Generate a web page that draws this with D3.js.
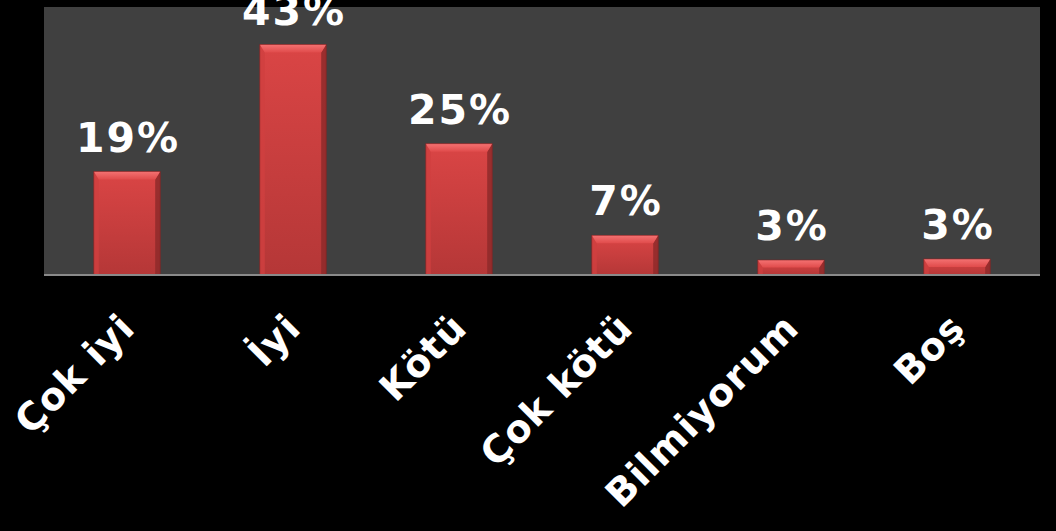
<!DOCTYPE html>
<html>
<head>
<meta charset="utf-8">
<script src="https://cdn.jsdelivr.net/npm/d3@7"></script>
<style>
  html, body { margin: 0; padding: 0; background: #000; }
  svg { display: block; }
</style>
</head>
<body>
<svg id="chart" width="1056" height="531"></svg>
<script>
const categories = ["Çok iyi", "İyi", "Kötü", "Çok kötü", "Bilmiyorum", "Boş"];
const values = [19.3, 43, 24.5, 7.4, 2.8, 3.0];
const valueLabels = ["19%", "43%", "25%", "7%", "3%", "3%"];
const yDomain = [0, 50];

const W = 1056, H = 531;
const plot = { left: 44, right: 1040, top: 7, bottom: 275 };

const svg = d3.select("#chart");
const defs = svg.append("defs");

const g1 = defs.append("linearGradient").attr("id", "barFill").attr("x1", 0).attr("y1", 0).attr("x2", 0).attr("y2", 1);
g1.append("stop").attr("offset", "0%").attr("stop-color", "#da4545");
g1.append("stop").attr("offset", "100%").attr("stop-color", "#b53737");
const g2 = defs.append("linearGradient").attr("id", "topBevel").attr("x1", 0).attr("y1", 0).attr("x2", 0).attr("y2", 1);
g2.append("stop").attr("offset", "0%").attr("stop-color", "#f47272");
g2.append("stop").attr("offset", "100%").attr("stop-color", "#e04b4b");

svg.append("rect").attr("width", W).attr("height", H).attr("fill", "#000");
svg.append("rect")
  .attr("x", plot.left).attr("y", plot.top)
  .attr("width", plot.right - plot.left).attr("height", plot.bottom - plot.top)
  .attr("fill", "#404040");

const x = d3.scaleBand().domain(categories).range([plot.left, plot.right]).paddingInner(0.6).paddingOuter(0.3);
const y = d3.scaleLinear().domain(yDomain).range([plot.bottom, plot.top]);

const bev = 8, side = 5;
const bars = svg.append("g").selectAll("g").data(categories).join("g");
bars.each(function(c, i) {
  const g = d3.select(this);
  const x0 = x(c), w = x.bandwidth(), x1 = x0 + w;
  const yt = y(values[i]), yb = y(0);
  const b = Math.min(bev, (yb - yt) / 2);
  g.append("rect").attr("x", x0).attr("y", yt).attr("width", w).attr("height", yb - yt).attr("fill", "url(#barFill)");
  g.append("polygon").attr("points", [[x0, yt], [x0 + side, yt + b], [x0 + side, yb], [x0, yb]].join(" "))
    .attr("fill", "#d04040").attr("opacity", 0.8);
  g.append("polygon").attr("points", [[x1, yt], [x1 - side, yt + b], [x1 - side, yb], [x1, yb]].join(" "))
    .attr("fill", "#8e2a2a").attr("opacity", 0.85);
  g.append("polygon").attr("points", [[x0, yt], [x1, yt], [x1 - side, yt + b], [x0 + side, yt + b]].join(" "))
    .attr("fill", "url(#topBevel)");
  g.append("rect").attr("x", x0).attr("y", yt).attr("width", w).attr("height", yb - yt)
    .attr("fill", "none").attr("stroke", "#7a2020").attr("stroke-width", 0.8).attr("opacity", 0.7);
});

svg.append("line").attr("x1", plot.left).attr("x2", plot.right)
  .attr("y1", y(0)).attr("y2", y(0)).attr("stroke", "#8a8a8a").attr("stroke-width", 2);

svg.append("g").selectAll("text").data(categories).join("text")
  .attr("x", c => x(c) + x.bandwidth() / 2 + 1)
  .attr("y", (c, i) => y(values[i]) - 20)
  .attr("text-anchor", "middle")
  .attr("fill", "#fff")
  .attr("font-family", "'DejaVu Sans', Verdana, sans-serif")
  .attr("font-weight", "bold")
  .attr("font-size", 41)
  .attr("letter-spacing", 2)
  .text((c, i) => valueLabels[i]);

svg.append("g").selectAll("text").data(categories).join("text")
  .attr("transform", c => `translate(${x(c) + x.bandwidth() / 2 + 10},${y(0) + 55}) rotate(-45)`)
  .attr("text-anchor", "end")
  .attr("fill", "#fff")
  .attr("font-family", "'DejaVu Sans', Verdana, sans-serif")
  .attr("font-weight", "bold")
  .attr("font-size", 38)
  .attr("letter-spacing", 1)
  .text(c => c);
</script>
</body>
</html>
